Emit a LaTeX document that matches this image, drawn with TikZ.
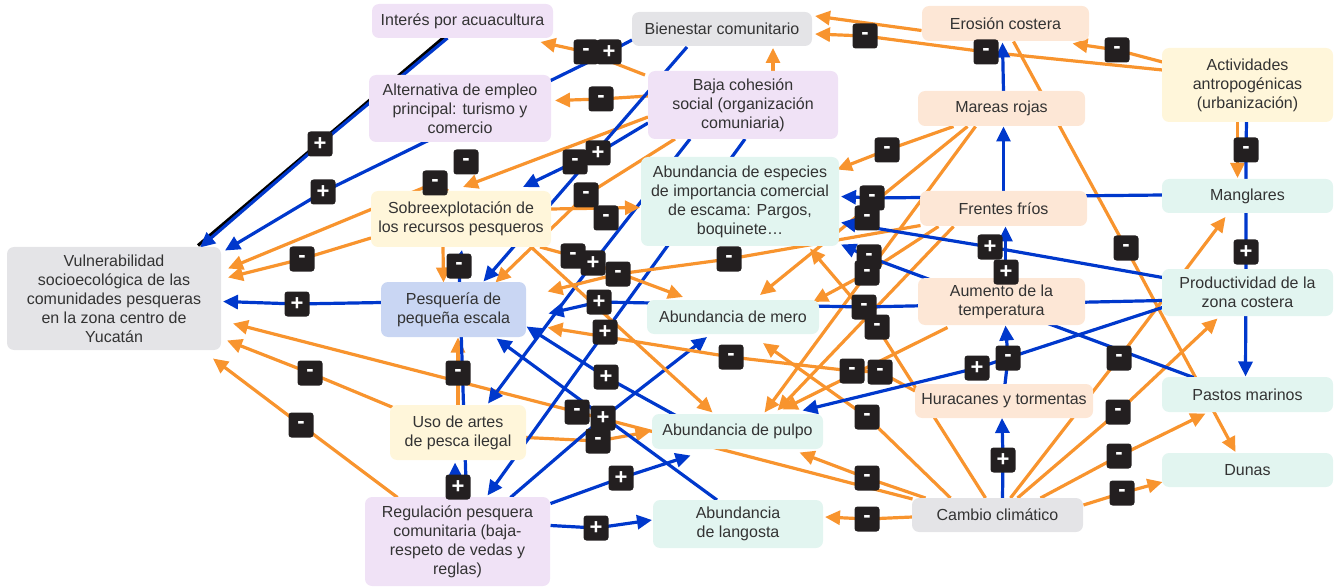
\documentclass[tikz,border=0pt]{standalone}
\usepackage{fontspec}
\setmainfont{Liberation Sans}
\usetikzlibrary{arrows.meta,calc,backgrounds}
\definecolor{cb}{RGB}{0,56,204}
\definecolor{co}{RGB}{248,148,46}
\definecolor{labc}{RGB}{35,31,32}
\definecolor{txt}{RGB}{51,51,51}
\definecolor{fgray}{RGB}{228,228,231}
\definecolor{fpur}{RGB}{240,226,246}
\definecolor{fpeach}{RGB}{253,231,214}
\definecolor{fyel}{RGB}{255,246,218}
\definecolor{fmint}{RGB}{226,245,240}
\definecolor{fblue}{RGB}{201,214,243}
\begin{document}
\begin{tikzpicture}[x=1pt,y=-1pt,
  box/.style={rounded corners=7pt, align=center, text=txt, font=\fontsize{16}{19}\selectfont, inner sep=1pt},
  lab/.style={fill=labc, rounded corners=3pt, minimum width=25pt, minimum height=25pt, inner sep=0pt, text=white, font=\bfseries\fontsize{22}{22}\selectfont},
  be/.style={draw=cb, line width=3.2pt, -{Triangle[length=15pt,width=14pt]}},
  oe/.style={draw=co, line width=3.2pt, -{Triangle[length=15pt,width=14pt]}}]
\useasboundingbox (0,0) rectangle (1336,588);
% ---------- nodes
\node[box, fill=fpur, minimum width=181pt, minimum height=34pt] (Int) at (462.5,21) {Interés por acuacultura};
\node[box, fill=fgray, minimum width=180pt, minimum height=34pt] (Bien) at (722,29) {Bienestar comunitario};
\node[box, fill=fpeach, minimum width=167pt, minimum height=35pt] (Ero) at (1005.5,23.5) {Erosión costera};
\node[box, fill=fyel, minimum width=171pt, minimum height=74pt] (Act) at (1247.5,85) {Actividades\\antropogénicas\\(urbanización)};
\node[box, fill=fpur, minimum width=182pt, minimum height=67pt] (Alt) at (460,108.5) {Alternativa de empleo\\principal: turismo y\\comercio};
\node[box, fill=fpur, minimum width=190pt, minimum height=68pt] (BC) at (743,105) {Baja cohesión\\social (organización\\comuniaria)};
\node[box, fill=fpeach, minimum width=167pt, minimum height=35pt] (Mar) at (1001.5,108.5) {Mareas rojas};
\node[box, fill=fmint, minimum width=198pt, minimum height=89pt] (Esp) at (740,201.5) {Abundancia de especies\\de importancia comercial\\de escama: Pargos,\\boquinete…};
\node[box, fill=fpeach, minimum width=167pt, minimum height=35pt] (Fre) at (1003.5,208.5) {Frentes fríos};
\node[box, fill=fmint, minimum width=171pt, minimum height=34pt] (Man) at (1247.5,196) {Manglares};
\node[box, fill=fyel, minimum width=180pt, minimum height=56pt] (Sob) at (461,219) {Sobreexplotación de\\los recursos pesqueros};
\node[box, fill=fgray, minimum width=214pt, minimum height=103pt] (Vul) at (114,298.5) {Vulnerabilidad\\socioecológica de las\\comunidades pesqueras\\en la zona centro de\\Yucatán};
\node[box, fill=fblue, minimum width=145pt, minimum height=55pt] (Pes) at (453.5,309.5) {Pesquería de\\pequeña escala};
\node[box, fill=fmint, minimum width=172pt, minimum height=34pt] (Mer) at (733,317) {Abundancia de mero};
\node[box, fill=fpeach, minimum width=167pt, minimum height=47pt] (Aum) at (1001.5,301.5) {Aumento de la\\temperatura};
\node[box, fill=fmint, minimum width=171pt, minimum height=47pt] (Pro) at (1247.5,292.5) {Productividad de la\\zona costera};
\node[box, fill=fpeach, minimum width=178pt, minimum height=34pt] (Hur) at (1004,401) {Huracanes y tormentas};
\node[box, fill=fmint, minimum width=171pt, minimum height=35pt] (Pas) at (1247.5,394.5) {Pastos marinos};
\node[box, fill=fyel, minimum width=136pt, minimum height=55pt] (Uso) at (458,432.5) {Uso de artes\\de pesca ilegal};
\node[box, fill=fmint, minimum width=171pt, minimum height=35pt] (Pul) at (737.5,431.5) {Abundancia de pulpo};
\node[box, fill=fmint, minimum width=171pt, minimum height=34pt] (Dun) at (1247.5,470) {Dunas};
\node[box, fill=fpur, minimum width=185pt, minimum height=89pt] (Reg) at (457.5,541.5) {Regulación pesquera\\comunitaria (baja-\\respeto de vedas y\\reglas)};
\node[box, fill=fmint, minimum width=170pt, minimum height=48pt] (Lan) at (738,524) {Abundancia\\de langosta};
\node[box, fill=fgray, minimum width=171pt, minimum height=34pt] (CC) at (997.5,515) {Cambio climático};
% ---------- labels
\node[lab] (p1) at (320,144) {+};
\node[lab] (p2) at (323,192) {+};
\node[lab] (m3) at (302,259) {-};
\node[lab] (m4) at (435,183) {-};
\node[lab] (p5) at (297,304) {+};
\node[lab] (m6) at (310,373) {-};
\node[lab] (m7) at (301,425) {-};
\node[lab] (m8) at (586,52) {-};
\node[lab] (p9) at (609,52) {+};
\node[lab] (m10) at (865,36) {-};
\node[lab] (m11) at (601,99) {-};
\node[lab] (m12) at (466,162) {-};
\node[lab] (m13) at (575,162) {-};
\node[lab] (p14) at (598,153) {+};
\node[lab] (m15) at (586,195) {-};
\node[lab] (m16) at (606,218) {-};
\node[lab] (m17) at (459,266) {-};
\node[lab] (m18) at (573,256) {-};
\node[lab] (p19) at (593,263) {+};
\node[lab] (m20) at (618,274) {-};
\node[lab] (m21) at (729,259) {-};
\node[lab] (m22) at (872,198) {-};
\node[lab] (m23) at (867,218) {-};
\node[lab] (m24) at (869,257) {-};
\node[lab] (m25) at (867,273) {-};
\node[lab] (m26) at (887,150) {-};
\node[lab] (m27) at (986,52) {-};
\node[lab] (m28) at (1117,50) {-};
\node[lab] (m29) at (1246,150) {-};
\node[lab] (p30) at (1246,252) {+};
\node[lab] (m31) at (1126,248) {-};
\node[lab] (p32) at (990,247) {+};
\node[lab] (p33) at (1006,272) {+};
\node[lab] (p34) at (599,302) {+};
\node[lab] (p35) at (605,332) {+};
\node[lab] (p36) at (606,377) {+};
\node[lab] (m37) at (577,412) {-};
\node[lab] (p38) at (603,418) {+};
\node[lab] (m39) at (598,441) {-};
\node[lab] (p40) at (621,478) {+};
\node[lab] (p41) at (596,528) {+};
\node[lab] (m42) at (731,357) {-};
\node[lab] (m43) at (864,307) {-};
\node[lab] (m44) at (877,327) {-};
\node[lab] (m45) at (852,371) {-};
\node[lab] (m46) at (880,372) {-};
\node[lab] (m47) at (867,417) {-};
\node[lab] (m48) at (867,478) {-};
\node[lab] (m49) at (867,519) {-};
\node[lab] (p50) at (977,368) {+};
\node[lab] (m51) at (1008,358) {-};
\node[lab] (m52) at (1119,358) {-};
\node[lab] (m53) at (1118,412) {-};
\node[lab] (m54) at (1119,456) {-};
\node[lab] (m55) at (1122,493) {-};
\node[lab] (p56) at (1003,460) {+};
\node[lab] (m57) at (458,373) {-};
\node[lab] (p58) at (458,487) {+};
% ---------- connectors
\begin{scope}[on background layer]
\draw[black, line width=3.2pt] ($(Int)+(-17,15)$) -- ($(Vul)+(84,-53)$);
\draw[be] ($(Int)+(-15,17)$) -- (p1.center) -- ($(Vul)+(86,-51)$);
\draw[be] ($(Bien)+(-90,11)$) -- (p9.center) -- (p2.center) -- ($(Vul)+(111,-48)$);
\draw[oe] ($(BC)+(-98,-30)$) -- (m8.center) -- ($(Int)+(78,21)$);
\draw[oe] ($(BC)+(30,-34)$) -- ($(Bien)+(51,19)$);
\draw[oe] ($(Ero)+(-84,7)$) -- ($(Bien)+(93,-13)$);
\draw[oe] ($(Act)+(-85,-15)$) -- (m27.center) -- (m10.center) -- ($(Bien)+(93,5)$);
\draw[oe] ($(Act)+(-85,-23)$) -- (m28.center) -- ($(Ero)+(67,20)$);
\draw[be] ($(Mar)+(2,-17)$) -- ($(Ero)+(-3,19)$);
\draw[oe] ($(Ero)+(8,18)$) -- (m31.center) -- ($(Dun)+(-12,-18)$);
\draw[oe] ($(Act)+(-10,37)$) -- ($(Man)+(-10,-18)$);
\draw[be] ($(Act)+(-1,37)$) -- (m29.center) -- (p30.center) -- ($(Pas)+(-2,-18)$);
\draw[oe] ($(BC)+(-95,-9)$) -- (m11.center) -- ($(Alt)+(95,-8)$);
\draw[oe] ($(BC)+(-95,12)$) -- ($(Sob)+(2,-32)$);
\draw[oe] ($(Sob)+(-13,-28)$) -- (m4.center) -- ($(Vul)+(114,-30)$);
\draw[oe] ($(Sob)+(-90,19)$) -- (m3.center) -- ($(Vul)+(114,-21)$);
\draw[oe] ($(BC)+(-68,34)$) -- (m15.center) -- ($(Pes)+(42,-27)$);
\draw[be] ($(Pes)+(-72,-7)$) -- (p5.center) -- ($(Vul)+(109,3)$);
\draw[oe] ($(Sob)+(-18,28)$) -- ($(Pes)+(-10,-27)$);
\draw[oe] ($(Uso)+(0,-27)$) -- (m57.center) -- ($(Pes)+(4.5,28)$);
\draw[be] ($(Reg)+(9,-44)$) -- (m17.center) -- ($(Sob)+(1,31)$);
\draw[be] ($(Reg)+(-2,-44)$) -- ($(Uso)+(-3,30)$);
\draw[oe] ($(Uso)+(-65,-25)$) -- (m6.center) -- ($(Vul)+(113,42)$);
\draw[oe] ($(CC)+(-85,-16)$) -- (m37.center) -- ($(Vul)+(119,25)$);
\draw[oe] ($(Reg)+(-60,-44)$) -- (m7.center) -- ($(Vul)+(99,60)$);
\draw[oe] ($(Uso)+(68,5)$) -- (m39.center) -- ($(Pul)+(-87,0)$);
\draw[be] ($(Reg)+(53,-44)$) -- (p38.center) -- ($(Mer)+(-26,20)$);
\draw[be] ($(Reg)+(93,-38)$) -- (p40.center) -- ($(Pul)+(-47,24)$);
\draw[be] ($(Reg)+(93,-16)$) -- (p41.center) -- ($(Lan)+(-86,-4)$);
\draw[be] ($(Lan)+(-21,-24)$) -- ($(Pes)+(43,29)$);
\draw[be] ($(Pul)+(-60,-15)$) -- (p36.center) -- ($(Pes)+(73,17)$);
\draw[be] ($(BC)+(-53,34)$) -- (p19.center) -- ($(Uso)+(30,-29)$);
\draw[be] ($(BC)+(2,34)$) -- (p35.center) -- ($(Reg)+(30,-46)$);
\draw[be] ($(BC)+(-95,18)$) -- (p14.center) -- (m13.center) -- ($(Sob)+(62,-32)$);
\draw[be] ($(Bien)+(-35,18)$) -- ($(Pes)+(30,-28)$);
\draw[oe] ($(Sob)+(90,-10)$) -- ($(Esp)+(-100,6)$);
\draw[oe] ($(Sob)+(79,28)$) -- (m18.center) -- ($(Mer)+(-50,-20)$);
\draw[oe] ($(Sob)+(70,28)$) -- ($(Pul)+(-25,-19)$);
\draw[oe] ($(Hur)+(-89,-10)$) -- (m46.center) -- (m45.center) -- (m42.center) -- ($(Pes)+(94,18)$);
\draw[oe] ($(Fre)+(-83,17)$) -- (m21.center) -- (m20.center) -- ($(Pes)+(94,-18)$);
\draw[oe] ($(Mar)+(-48,18)$) -- (m26.center) -- ($(Esp)+(97,-32)$);
\draw[oe] ($(Mar)+(-34,18)$) -- ($(Mer)+(27,-22)$);
\draw[oe] ($(Mar)+(-26,18)$) -- ($(Pul)+(27,-19)$);
\draw[oe] ($(Fre)+(-50,18)$) -- ($(Pul)+(40,-21)$);
\draw[oe] ($(Fre)+(-65,18)$) -- (m25.center) -- ($(Mer)+(80,-15)$);
\draw[oe] ($(Aum)+(-54,26)$) -- ($(Pul)+(45,-22)$);
\draw[oe] ($(CC)+(-12,-17)$) -- (m44.center) -- ($(Esp)+(70,47)$);
\draw[oe] ($(CC)+(-47,-17)$) -- (m47.center) -- ($(Mer)+(30,26)$);
\draw[oe] ($(CC)+(-72,-17)$) -- (m48.center) -- ($(Pul)+(62,21)$);
\draw[oe] ($(CC)+(-85,2)$) -- (m49.center) -- ($(Lan)+(87,-7)$);
\draw[be] ($(CC)+(5,-17)$) -- (p56.center) -- ($(Hur)+(-2,17)$);
\draw[oe] ($(CC)+(86,-10)$) -- (m55.center) -- ($(Dun)+(-85,12)$);
\draw[oe] ($(CC)+(43,-17)$) -- (m54.center) -- ($(Pas)+(-42,19)$);
\draw[oe] ($(CC)+(20,-17)$) -- (m53.center) -- ($(Pro)+(-30,26)$);
\draw[oe] ($(CC)+(13,-17)$) -- (m52.center) -- ($(Man)+(-22,21)$);
\draw[be] ($(Man)+(-85,-1)$) -- (m22.center) -- ($(Esp)+(101,-5)$);
\draw[be] ($(Pro)+(-85,-15)$) -- (p32.center) -- ($(Esp)+(101,21)$);
\draw[be] ($(Pas)+(-54,-17)$) -- (m24.center) -- ($(Esp)+(101,43)$);
\draw[be] ($(Pro)+(-85,8)$) -- (m43.center) -- (p34.center) -- ($(Pes)+(95,4)$);
\draw[be] ($(Pro)+(-85,15)$) -- (p50.center) -- ($(Pul)+(65,-21)$);
\draw[be] ($(Fre)+(0,-17)$) -- ($(Mar)+(2,18)$);
\draw[be] ($(Aum)+(4,-23)$) -- ($(Fre)+(2,18)$);
\draw[be] ($(Hur)+(1,-17)$) -- (m51.center) -- ($(Aum)+(4,24)$);
\end{scope}
\end{tikzpicture}
\end{document}
